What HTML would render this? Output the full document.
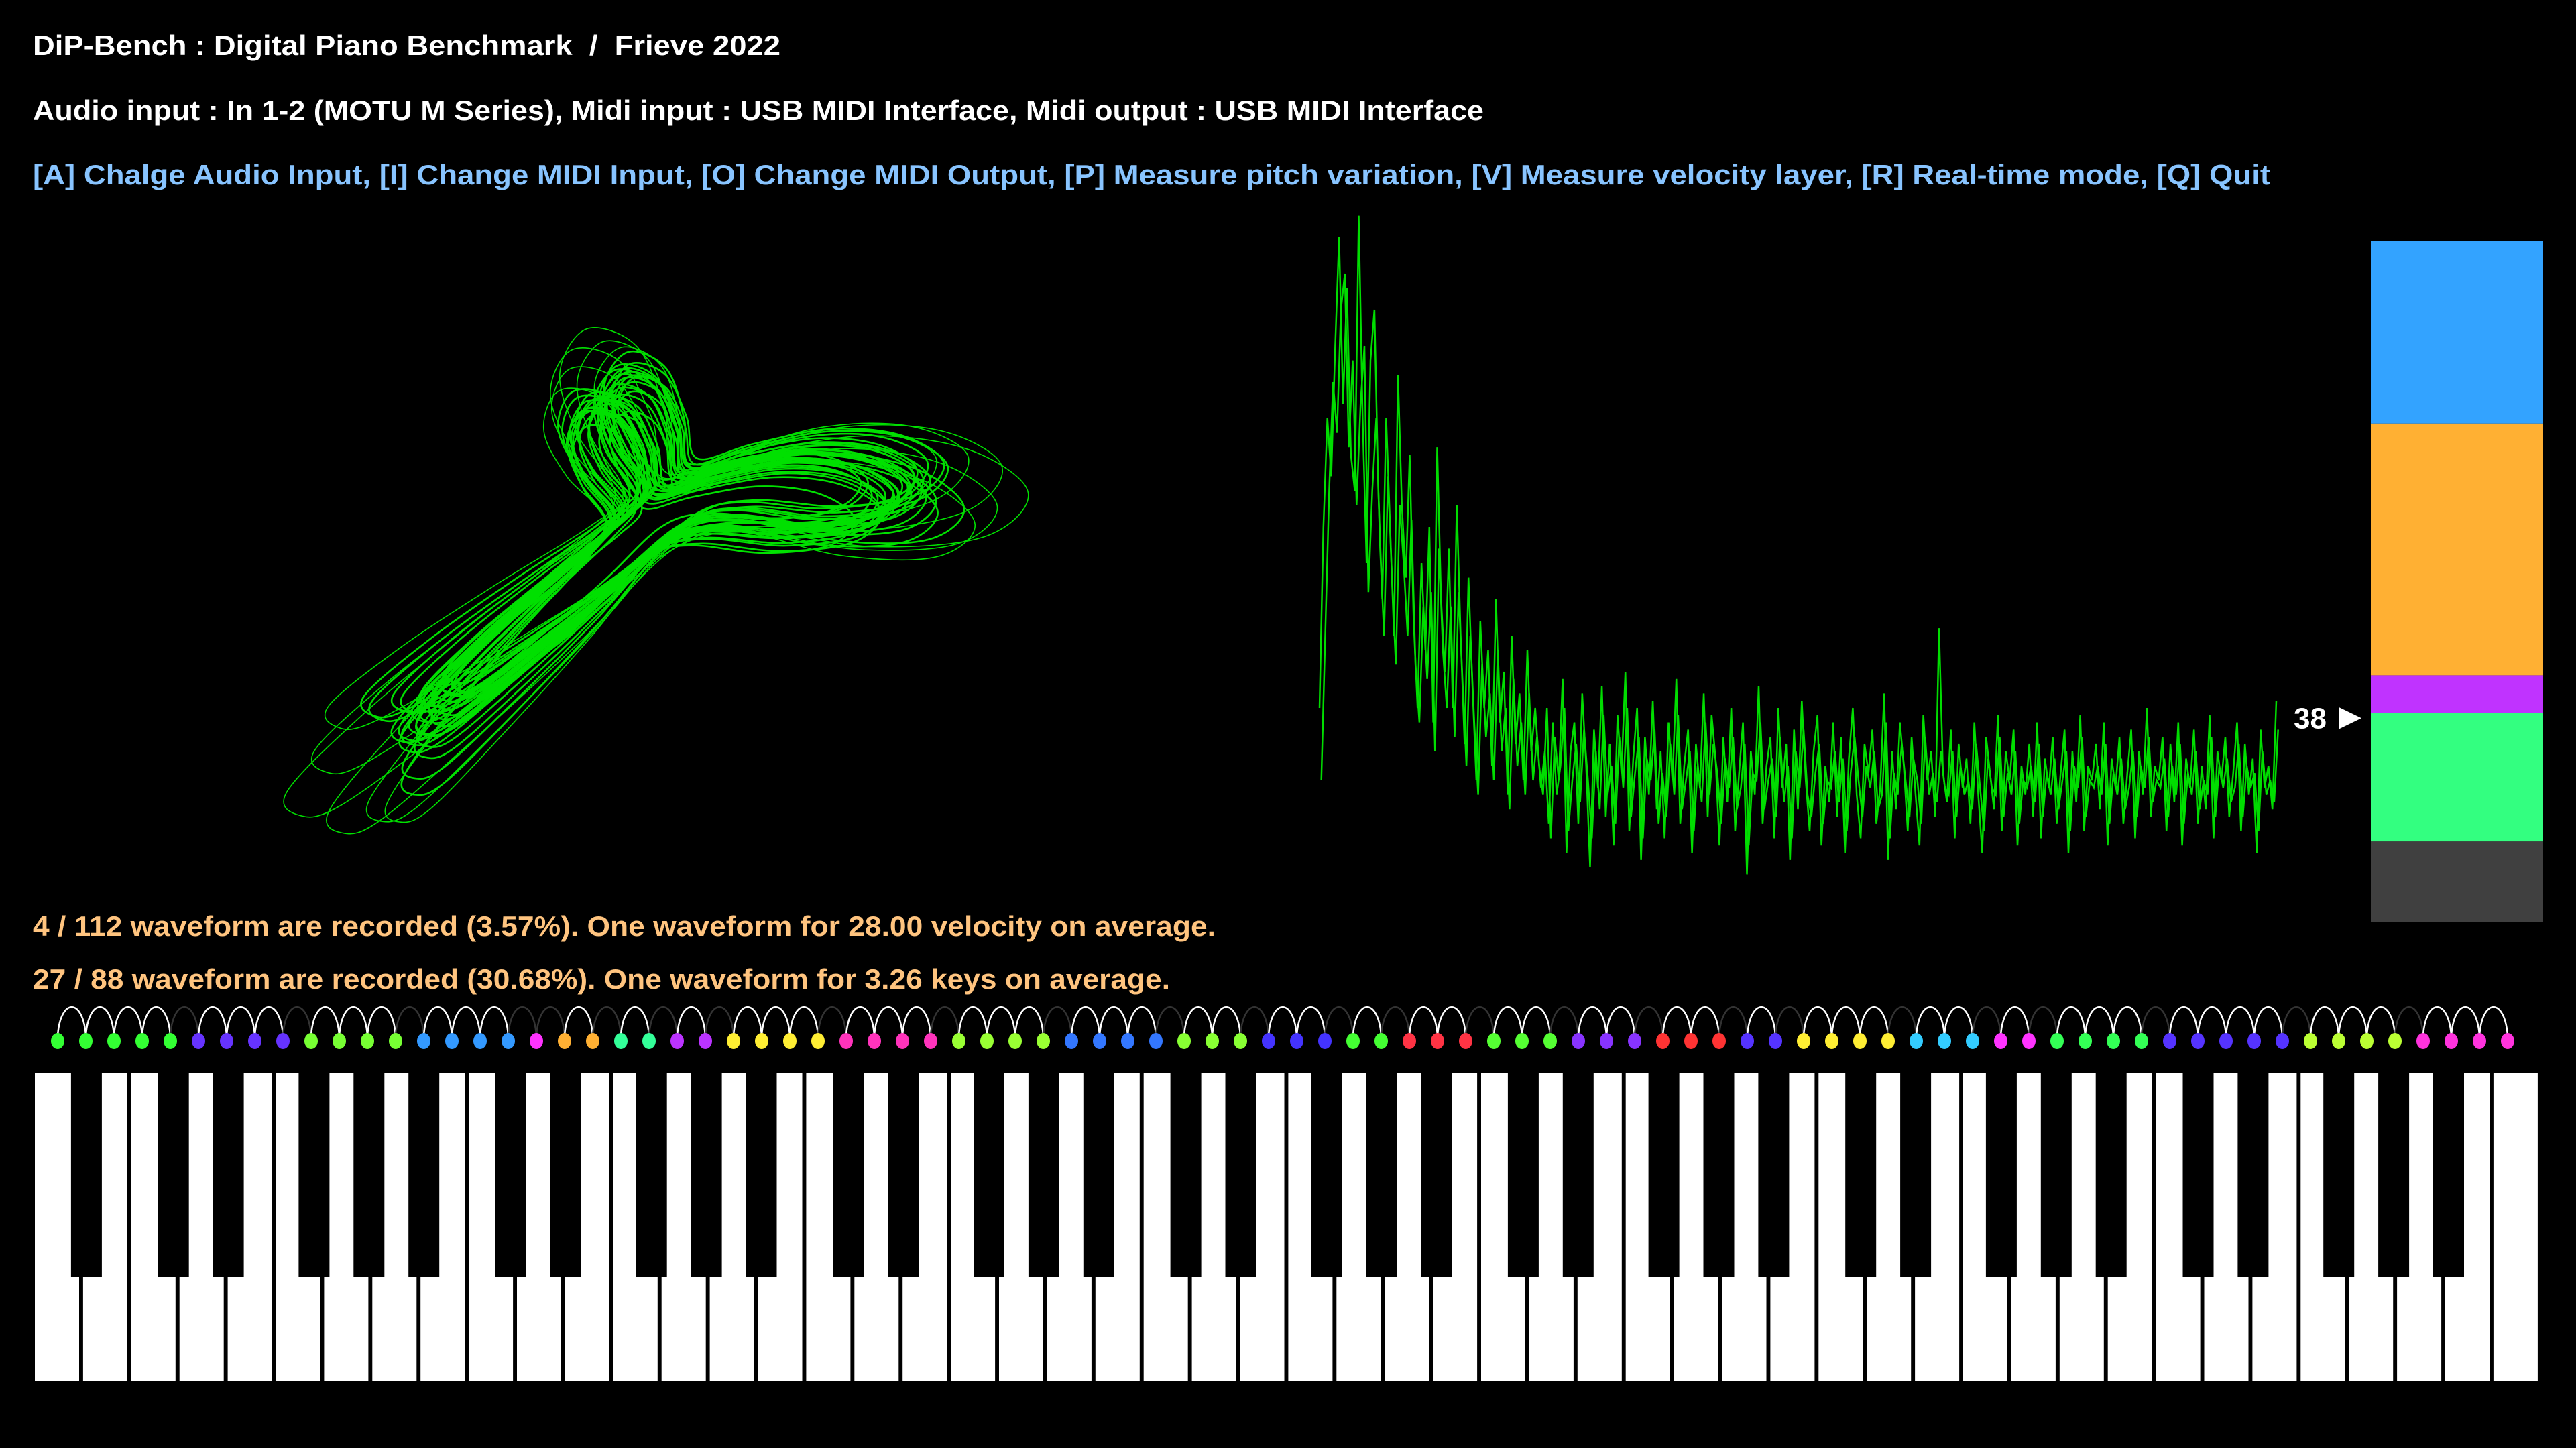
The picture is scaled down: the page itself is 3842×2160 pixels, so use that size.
<!DOCTYPE html>
<html><head><meta charset="utf-8"><style>
html,body{margin:0;padding:0;background:#000;width:3842px;height:2160px;overflow:hidden}
svg{display:block}
text{font-family:"Liberation Sans",sans-serif;font-weight:bold;white-space:pre}
</style></head><body>
<svg id="root" width="3842" height="2160" viewBox="0 0 3842 2160">
<rect width="3842" height="2160" fill="#000"/>
<text x="49" y="82" font-size="42" fill="#fff" textLength="1115" lengthAdjust="spacingAndGlyphs" xml:space="preserve">DiP-Bench : Digital Piano Benchmark  /  Frieve 2022</text>
<text x="49" y="179" font-size="42" fill="#fff" textLength="2164" lengthAdjust="spacingAndGlyphs">Audio input : In 1-2 (MOTU M Series), Midi input : USB MIDI Interface, Midi output : USB MIDI Interface</text>
<text x="49" y="275" font-size="42" fill="#88c4ff" textLength="3337" lengthAdjust="spacingAndGlyphs">[A] Chalge Audio Input, [I] Change MIDI Input, [O] Change MIDI Output, [P] Measure pitch variation, [V] Measure velocity layer, [R] Real-time mode, [Q] Quit</text>
<text x="49" y="1396" font-size="42" fill="#ffc47f" textLength="1764" lengthAdjust="spacingAndGlyphs">4 / 112 waveform are recorded (3.57%). One waveform for 28.00 velocity on average.</text>
<text x="49" y="1475" font-size="42" fill="#ffc47f" textLength="1696" lengthAdjust="spacingAndGlyphs">27 / 88 waveform are recorded (30.68%). One waveform for 3.26 keys on average.</text>
<g id="liss"></g>
<g id="spec"></g>
<g id="vbar"></g>
<g id="dots"></g>
<g id="keys"></g>
</svg>
<script>
const NS="http://www.w3.org/2000/svg";
// ---- data ----
const lissBase=[[626,1056],[700,975],[800,885],[900,800],[940,750],[900,690],[880,630],[905,585],[955,600],[985,660],[1000,720],[1080,700],[1190,680],[1290,690],[1350,730],[1310,775],[1200,790],[1080,780],[1000,800],[900,890],[780,990],[680,1068],[640,1080]];
const lissScales=[0.82,0.86,0.88,0.9,0.92,0.93,0.94,0.95,0.96,0.97,0.98,0.99,1,1,1,1.01,1.02,1.03,1.04,1.05,1.06,1.08,1.1,1.12,1.15,1.18,1.22,1.26,1.3,1.36,1.42,1.5,0.95,1,1.05,0.9,1.1,1.0];
const lissRot=[-0.06,0.04,-0.02,0.05,-0.04,0.02,-0.01,0.03,-0.03,0.01,0,0.02,-0.02,0.03,-0.01,0.04,-0.05,0.02,-0.03,0.06,-0.07,0.08,-0.09,0.1,-0.12,0.12,-0.14,0.15,-0.1,0.08,-0.05,0.04,0.0,0.01,-0.01,0.02,-0.02,0.0];
const lissShiftX=[0,10,-12,18,-20,6,-8,24,-26,14,-4,30,-30,8,-16,20,-10,26,-22,12,-6,16,-18,4,-14,22,-24,10,-8,6,-4,2,36,-36,40,-40,28,-28];
const lissShiftY=[0,8,-10,-14,16,-6,8,-20,20,-10,4,-24,24,-8,12,-16,10,-22,18,-12,6,-14,16,-4,12,-18,20,-8,6,-4,4,-2,-30,30,-34,34,-24,24];
const specValues=[30,55,70,62,80,95,72,88,65,60,98,70,50,78,85,60,45,70,55,40,76,58,48,65,42,30,50,38,55,28,66,45,35,52,30,58,40,25,48,33,20,42,30,38,22,45,28,35,18,40,25,32,20,38,24,30,22,18,30,12,26,20,34,10,24,28,14,32,22,8,27,19,33,15,25,11,29,21,35,13,23,30,9,26,18,31,16,24,12,28,20,34,14,22,27,10,25,19,32,15,29,23,11,26,17,30,13,21,28,7,24,18,33,14,22,26,12,30,19,25,9,27,16,31,20,13,24,29,11,22,17,28,15,26,10,23,30,18,12,25,21,27,14,19,32,9,24,16,28,22,13,26,18,11,29,20,24,15,41,21,17,27,12,25,19,23,14,28,18,10,26,21,16,29,13,24,20,27,11,22,18,25,15,28,12,23,19,26,14,21,27,10,24,17,29,13,22,20,25,16,28,11,23,19,26,14,21,27,12,24,18,30,15,22,20,26,13,25,17,28,11,23,19,27,14,22,16,29,12,24,20,26,15,21,28,13,25,18,23,10,27,19,22,16,31];
const specValues2=[20,40,60,75,68,85,90,66,78,58,72,80,46,60,70,52,40,62,48,36,58,50,40,56,36,28,44,34,46,24,52,38,30,44,26,46,34,22,40,28,18,36,26,32,20,38,24,30,16,34,22,28,18,32,20,26,19,24,14,28,18,22,30,13,20,25,17,27,20,12,24,16,29,18,22,14,26,19,30,15,21,26,12,23,20,27,14,21,15,25,18,29,16,20,24,13,22,17,28,18,25,21,14,23,19,26,16,19,25,11,21,20,28,16,20,23,15,26,17,22,12,24,19,27,18,15,21,25,14,20,19,24,17,23,13,21,26,20,15,22,19,24,16,18,28,12,21,18,25,20,15,23,20,14,26,18,21,17,24,19,18,24,15,22,18,20,16,25,19,13,23,19,18,26,15,21,18,24,14,20,19,22,17,25,15,21,18,23,16,20,24,13,22,19,26,15,20,19,22,18,25,14,21,18,23,16,19,24,15,22,19,26,17,20,19,23,15,22,18,25,14,21,18,24,16,20,18,26,15,22,19,23,17,19,25,15,22,19,21,13,24,18,20,17,27];
const velBounds=[0,15,39,46,93,127];
const velColors=["#404040","#33ff80","#c033ff","#ffb033","#33a3ff"];
const velMarker=38;
const dotColors=["#33ff33","#6633ff","#77ff33","#3399ff","#ff33ff","#ffb033","#33ff99","#bb33ff","#ffee33","#ff33bb","#99ff33","#3377ff","#88ff33","#4433ff","#44ff33","#ff3344","#55ff33","#8833ff","#ff3333","#5533ff","#ffee33","#33ccff","#ff33ff","#33ff55","#5533ff","#bbff33","#ff33dd"];
const dotCounts=[5,4,4,4,1,2,2,2,4,4,4,4,3,3,2,3,3,3,3,2,4,3,2,4,5,4,4];
const darkArcs=[4,8,12,16,17,19,21,23,27,31,35,39,42,45,47,50,53,56,59,61,65,68,70,74,79,83];
const whiteKeyCount=52;
const blackOffsets={1:8,4:-6,6:4,9:-12,11:-2};

function mk(tag,attrs,parent){const e=document.createElementNS(NS,tag);for(const k in attrs)e.setAttribute(k,attrs[k]);parent.appendChild(e);return e;}

// ---- lissajous ----
(function(){
 const g=document.getElementById('liss');const cx=990,cy=760;
 function smooth(pts){let d="M"+pts[0][0]+","+pts[0][1];const n=pts.length;
  for(let i=0;i<n;i++){const p0=pts[(i-1+n)%n],p1=pts[i],p2=pts[(i+1)%n],p3=pts[(i+2)%n];
   d+=" C"+(p1[0]+(p2[0]-p0[0])/6).toFixed(1)+","+(p1[1]+(p2[1]-p0[1])/6).toFixed(1)+" "+(p2[0]-(p3[0]-p1[0])/6).toFixed(1)+","+(p2[1]-(p3[1]-p1[1])/6).toFixed(1)+" "+p2[0]+","+p2[1];}
  return d+"Z";}
 lissScales.forEach((s,i)=>{const r=lissRot[i];const c=Math.cos(r),sn=Math.sin(r);
  const pts=lissBase.map(p=>{const dx=(p[0]-cx)*s,dy=(p[1]-cy)*s;return[+(cx+lissShiftX[i]+dx*c-dy*sn).toFixed(1),+(cy+lissShiftY[i]+dx*sn+dy*c).toFixed(1)];});
  const e=mk('path',{d:smooth(pts),fill:'none',stroke:'#00e000','stroke-width':s>1.2?1.6:2.6},g);
  
  
 });
})();

// ---- spectrum ----
(function(){
 const g=document.getElementById('spec');const x0=1968,x1=3395;
 const ys=v=>1380-v*10.8;
 [specValues,specValues2].forEach((arr,k)=>{
  const xs=i=>x0+(x1-x0)*i/(arr.length-1)+k*2.7;
  const pts=arr.map((v,i)=>xs(i).toFixed(1)+","+ys(v).toFixed(1)).join(" ");
  const e=mk('polyline',{points:pts,fill:'none',stroke:'#00dd00','stroke-width':2.5},g);
  
  
 });
})();

// ---- velocity bar ----
(function(){
 const g=document.getElementById('vbar');const top=360,bot=1375,x=3536,w=257;
 const ys=v=>bot-(bot-top)*v/127;
 for(let i=0;i<velColors.length;i++){
  const e=mk('rect',{x:x,y:ys(velBounds[i+1]),width:w,height:ys(velBounds[i])-ys(velBounds[i+1]),fill:velColors[i]},g);
  
  
 }
 const my=ys(velMarker);
 const t=mk('text',{x:3470,y:my+15,'font-size':44,fill:'#fff','text-anchor':'end'},g);t.textContent=String(velMarker);
 
 
 const tri=mk('polygon',{points:`3489,${my-16} 3522,${my} 3489,${my+16}`,fill:'#fff'},g);
 
 
})();

// ---- dots & arcs ----
(function(){
 const g=document.getElementById('dots');const cols=[];
 dotColors.forEach((c,i)=>{for(let k=0;k<dotCounts[i];k++)cols.push(c);});
 const xs=i=>86+42*i;
 for(let i=0;i<cols.length-1;i++){
  const a=xs(i),b=xs(i+1);
  const e=mk('path',{d:`M${a},1545 C${a+4},1488 ${b-4},1488 ${b},1545`,fill:'none',stroke:darkArcs.includes(i)?'#333':'#fff','stroke-width':2.5},g);
  
  
 }
 cols.forEach((c,i)=>{
  const e=mk('ellipse',{cx:xs(i),cy:1553,rx:10,ry:12,fill:c},g);
  
  
 });
})();

// ---- keyboard ----
(function(){
 const g=document.getElementById('keys');const x0=52,pitch=71.9,top=1600,bot=2060;
 for(let i=0;i<whiteKeyCount;i++){
  const e=mk('rect',{x:(x0+i*pitch).toFixed(1),y:top,width:66,height:bot-top,fill:'#fff'},g);
  
  
 }
 let w=0;
 for(let n=0;n<88;n++){
  const s=n%12;
  if(blackOffsets[s]!==undefined){
   const bx=x0+w*pitch-3+blackOffsets[s];
   const e=mk('rect',{x:(bx-23).toFixed(1),y:top,width:46,height:305,fill:'#000'},g);
   
   
  } else w++;
 }
})();
</script>
</body></html>
